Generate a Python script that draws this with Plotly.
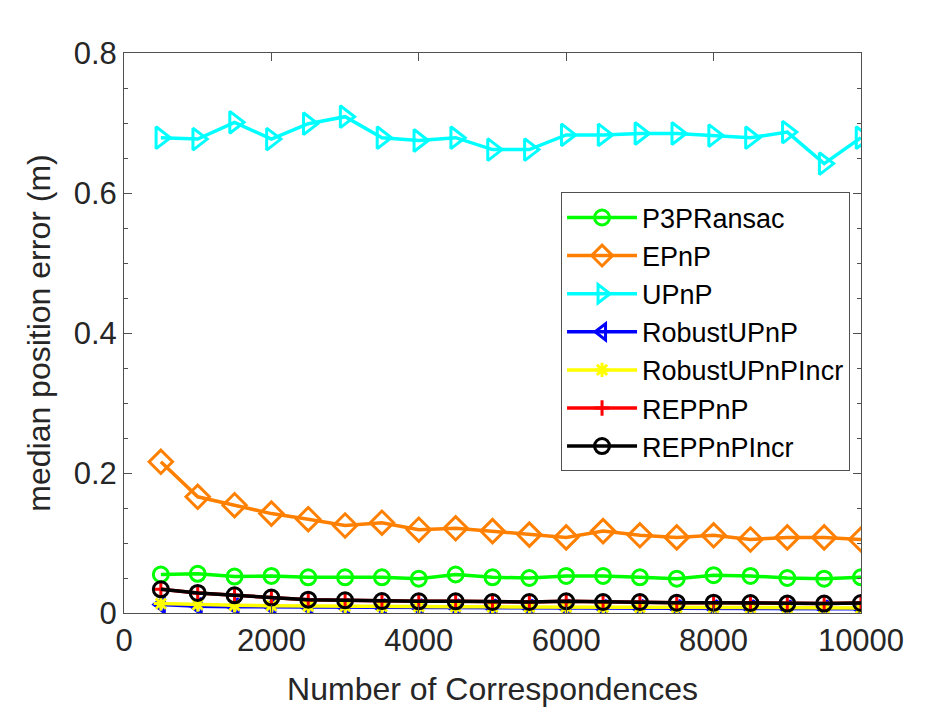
import plotly.graph_objects as go

# number of correspondences
n_corr = [500, 1000, 1500, 2000, 2500, 3000, 3500, 4000, 4500, 5000,
          5500, 6000, 6500, 7000, 7500, 8000, 8500, 9000, 9500, 10000]

# median position error (m)
p3p_ransac = [0.055, 0.056, 0.052, 0.053, 0.051, 0.051, 0.051, 0.049, 0.055, 0.051,
              0.050, 0.053, 0.053, 0.051, 0.049, 0.054, 0.053, 0.050, 0.049, 0.051]
epnp = [0.216, 0.166, 0.154, 0.142, 0.134, 0.125, 0.129, 0.119, 0.121, 0.117,
        0.112, 0.108, 0.117, 0.111, 0.108, 0.111, 0.105, 0.108, 0.108, 0.105]
upnp = [0.679, 0.677, 0.701, 0.677, 0.699, 0.709, 0.679, 0.675, 0.679, 0.662,
        0.662, 0.683, 0.683, 0.685, 0.685, 0.682, 0.679, 0.687, 0.642, 0.679]
robust_upnp = [0.012, 0.0095, 0.009, 0.0088, 0.0085, 0.0083, 0.008, 0.0078, 0.0076, 0.0074,
               0.0072, 0.007, 0.0069, 0.0068, 0.0066, 0.0064, 0.0063, 0.0061, 0.006, 0.0059]
robust_upnp_incr = [0.0134, 0.012, 0.011, 0.0105, 0.010, 0.0098, 0.0095, 0.0093, 0.009, 0.0088,
                    0.0086, 0.0085, 0.0083, 0.0082, 0.008, 0.0078, 0.0077, 0.0075, 0.0074, 0.0073]
reppnp = [0.0339, 0.0286, 0.0253, 0.022, 0.0191, 0.0181, 0.0171, 0.0167, 0.0167, 0.0157,
          0.0157, 0.0167, 0.0157, 0.0157, 0.0148, 0.0148, 0.0143, 0.0134, 0.0134, 0.0143]
reppnp_incr = [0.0339, 0.0286, 0.0253, 0.022, 0.0191, 0.0181, 0.0171, 0.0167, 0.0167, 0.0157,
               0.0157, 0.0167, 0.0157, 0.0157, 0.0148, 0.0148, 0.0143, 0.0134, 0.0134, 0.0143]

series = [
    ("P3PRansac", p3p_ransac, "#00FF00", "circle-open", 15),
    ("EPnP", epnp, "#FF8000", "diamond-open", 18),
    ("UPnP", upnp, "#00FFFF", "triangle-right-open", 19),
    ("RobustUPnP", robust_upnp, "#0000FF", "triangle-left-open", 14),
    ("RobustUPnPIncr", robust_upnp_incr, "#FFFF00", "asterisk-open", 12),
    ("REPPnP", reppnp, "#FF0000", "cross-thin-open", 11),
    ("REPPnPIncr", reppnp_incr, "#000000", "circle-open", 15),
]

fig = go.Figure()
for name, vals, col, sym, size in series:
    fig.add_trace(go.Scatter(
        x=n_corr, y=vals, name=name, mode="lines+markers",
        line=dict(color=col, width=3.5),
        marker=dict(symbol=sym, size=size, color=col,
                    line=dict(color=col, width=3)),
    ))

axis_col = "#505050"
txt_col = "#262626"

fig.update_layout(
    width=952, height=714,
    margin=dict(l=116, r=99, t=45, b=109),
    paper_bgcolor="white", plot_bgcolor="white",
    font=dict(family="Liberation Sans, Arial, sans-serif", color=txt_col, size=31),
    xaxis=dict(
        range=[0, 10000], dtick=2000, tickformat="d",
        showline=True, linecolor=axis_col, linewidth=1, mirror="ticks",
        ticks="inside", ticklen=8, tickcolor=axis_col,
        showgrid=False, zeroline=False,
        tickfont=dict(size=31),
        title=dict(text="Number of Correspondences", font=dict(size=32), standoff=20),
    ),
    yaxis=dict(
        range=[0, 0.8], dtick=0.2,
        showline=True, linecolor=axis_col, linewidth=1, mirror="ticks",
        ticks="inside", ticklen=8, tickcolor=axis_col,
        minor=dict(dtick=0.05, ticks="inside", ticklen=4, tickcolor=axis_col),
        showgrid=False, zeroline=False,
        tickfont=dict(size=31),
        title=dict(text="median position error (m)", font=dict(size=32), standoff=13),
    ),
    legend=dict(
        x=0.593, y=0.751, xanchor="left", yanchor="top",
        bgcolor="white", bordercolor=axis_col, borderwidth=1,
        font=dict(size=27, color="#000000"),
        itemwidth=70, tracegroupgap=0,
    ),
    showlegend=True,
)

fig.write_html("out.html")
